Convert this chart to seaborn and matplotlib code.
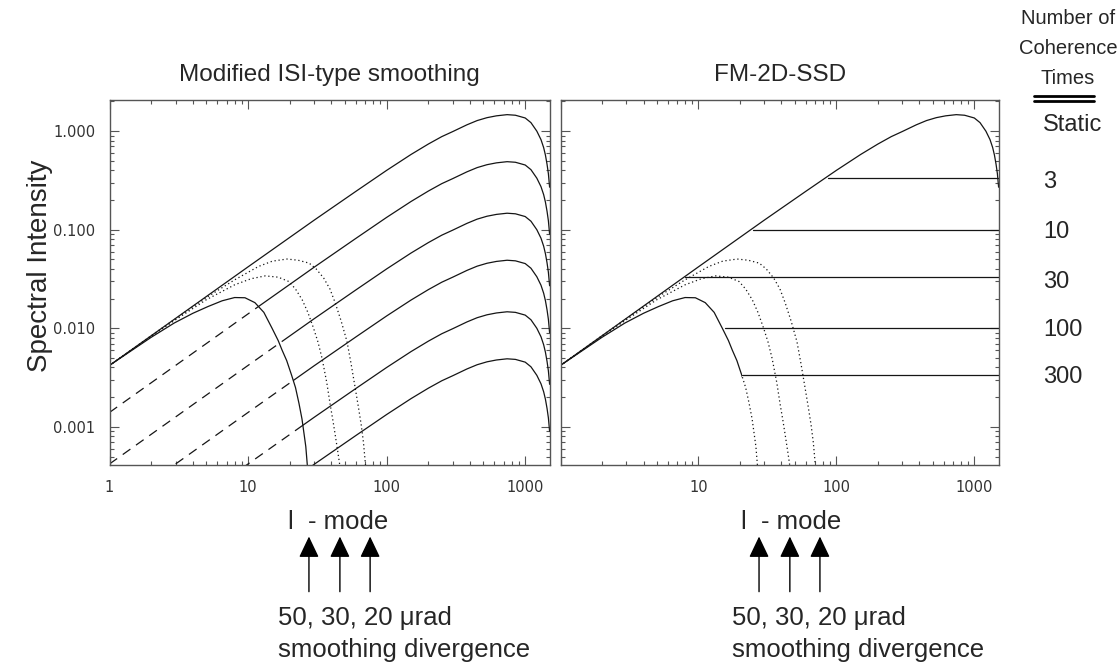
import numpy as np
import seaborn as sns
import matplotlib.pyplot as plt
from matplotlib.patches import Rectangle
from matplotlib.lines import Line2D
from matplotlib.ticker import NullFormatter

# static spectrum (top curve)
static_l = [1, 3, 10, 30, 60, 100, 150, 200, 250, 300, 380, 450, 530, 620, 740,
            850, 1000, 1100, 1213, 1300, 1359, 1400, 1438, 1470, 1487, 1500]
static_s = [0.0042, 0.0126, 0.042, 0.125, 0.245, 0.40, 0.58, 0.74, 0.88, 0.99, 1.16,
            1.28, 1.37, 1.43, 1.47, 1.45, 1.36, 1.22, 1.0, 0.82, 0.68, 0.57, 0.46,
            0.37, 0.31, 0.27]

# smoothing roll-off curves (50, 30, 20 urad divergence)
div50_l = [1, 2, 2.93, 4, 5.13, 6.5, 8, 9.5, 11.2, 13, 14.9, 16.5, 17.6, 19, 20.6,
           22, 23.3, 24.5, 25.5, 26.1, 26.8]
div50_s = [0.0042, 0.0081, 0.0113, 0.0142, 0.0166, 0.0190, 0.0205, 0.0204, 0.0182,
           0.0145, 0.0100, 0.0075, 0.0060, 0.0047, 0.00335, 0.0025, 0.00173, 0.0012,
           0.0008, 0.00063, 0.0004]
div30_l = [1, 2, 3, 5, 8, 10.5, 13.3, 16.5, 19.7, 22, 24.6, 27, 29.7, 32, 34.2, 37,
           39.2, 41, 42.6, 44.5, 46]
div30_s = [0.0042, 0.0083, 0.0122, 0.0195, 0.0276, 0.0318, 0.034, 0.0330, 0.0298,
           0.025, 0.0194, 0.0145, 0.010, 0.0072, 0.00495, 0.0028, 0.00166, 0.00115,
           0.00082, 0.00055, 0.0004]
div20_l = [1, 2, 3, 5, 8, 11.9, 15, 19.1, 23, 27.6, 31, 35.1, 39, 42.6, 47, 51.8,
           55.5, 59.4, 62.5, 65.6, 68, 70.5]
div20_s = [0.0042, 0.0084, 0.0125, 0.0205, 0.031, 0.0424, 0.048, 0.0504, 0.049,
           0.0458, 0.040, 0.0324, 0.025, 0.018, 0.0118, 0.0073, 0.0043, 0.00245,
           0.0016, 0.00104, 0.0007, 0.0004]

coh_times = [3, 10, 30, 100, 300]
coh_labels = ['Static', '3', '10', '30', '100', '300']
isi_switch_l = [11.8, 17.9, 21.0, 24.0, 26.3]    # dashed -> solid for static/N
ssd_level = [0.333, 0.1, 0.0333, 0.01, 0.00333]
ssd_start_l = [87, 25, 8.0, 15.5, 20.6]
arrow_l = [27.5, 46, 76]

xticks = [1, 10, 100, 1000]
yticks = [0.001, 0.01, 0.1, 1.0]
ytick_labels = ['0.001', '0.010', '0.100', '1.000']

XLIM = (1, 1510)
YLIM = (4.1e-4, 2.07)
ink = '#151515'
DOT = (0, (1.0, 2.2))
DASH = (0, (7.5, 5.5))

sns.set_style('ticks')
plt.rcParams['font.family'] = ['Liberation Sans', 'DejaVu Sans']

W, H = 1119, 667
fig = plt.figure(figsize=(W / 100, H / 100), dpi=100)
ax1 = fig.add_axes([109.5 / W, 202 / H, 440.5 / W, 365 / H])
ax2 = fig.add_axes([560.5 / W, 202 / H, 438.5 / W, 365 / H])


def line(ax, x, y, ls='-', lo=None, hi=None):
    sns.lineplot(x=x, y=y, ax=ax, color=ink, lw=0.9, linestyle=ls)
    ln = ax.lines[-1]
    if lo is not None:
        # keep only the part between lo and hi, still inside the axes
        lo, hi = max(lo, XLIM[0]), min(hi, XLIM[1])
        ln.set_clip_path(Rectangle((lo, YLIM[0]), hi - lo, YLIM[1] - YLIM[0],
                                   transform=ax.transData))


for ax in (ax1, ax2):
    ax.set_xscale('log')
    ax.set_yscale('log')

# left: modified ISI-type smoothing
line(ax1, static_l, static_s)
line(ax1, div50_l, div50_s)
line(ax1, div30_l, div30_s, DOT)
line(ax1, div20_l, div20_s, DOT)
for n, sw in zip(coh_times, isi_switch_l):
    ys = np.array(static_s) / n
    line(ax1, static_l, ys, DASH, 1, sw)
    line(ax1, static_l, ys, '-', sw, 1e4)

# right: FM-2D-SSD
line(ax2, static_l, static_s)
line(ax2, div50_l, div50_s, '-', 1, ssd_start_l[-1])
line(ax2, div50_l, div50_s, DOT, ssd_start_l[-1], 1e4)
line(ax2, div30_l, div30_s, DOT)
line(ax2, div20_l, div20_s, DOT)
for lev, st in zip(ssd_level, ssd_start_l):
    line(ax2, [st, 1500], [lev, lev])

for ax in (ax1, ax2):
    ax.set_xlim(*XLIM)
    ax.set_ylim(*YLIM)
    ax.set_xticks(xticks)
    ax.set_yticks(yticks)
    ax.xaxis.set_minor_formatter(NullFormatter())
    ax.yaxis.set_minor_formatter(NullFormatter())
    ax.tick_params(which='both', direction='in', top=True, right=True,
                   colors='#555555', labelcolor='#333333', width=0.8)
    ax.tick_params(which='major', length=6.5)
    ax.tick_params(which='minor', length=3.2)
    ax.tick_params(axis='x', pad=11)
    ax.tick_params(axis='y', pad=10)
    for s in ax.spines.values():
        s.set_color('#555555')
        s.set_linewidth(1.0)
    ax.set_xlabel('')
    ax.set_ylabel('')

ax1.set_xticklabels(['1', '10', '100', '1000'])
ax1.set_yticklabels(ytick_labels)
ax2.set_xticklabels(['', '10', '100', '1000'])
ax2.set_yticklabels(['', '', '', ''])
for ax in (ax1, ax2):
    for lab in ax.get_xticklabels() + ax.get_yticklabels():
        lab.set_family('DejaVu Sans')
        lab.set_fontsize(10.5)

# titles and labels
fig.text(329.8 / W, 1 - 75 / H, 'Modified ISI-type smoothing', ha='center', va='center', fontsize=17.5)
fig.text(779.8 / W, 1 - 75 / H, 'FM-2D-SSD', ha='center', va='center', fontsize=17.5)
fig.text(40 / W, 1 - 266 / H, 'Spectral Intensity', rotation=90, ha='center', va='center', fontsize=20)

for ax, cx, tx in ((ax1, 338.5, 278), (ax2, 790.8, 731.7)):
    fig.text(cx / W, 1 - 522 / H, 'l  - mode', ha='center', va='center', fontsize=18.5)
    for l in arrow_l:
        ax.annotate('', xy=(l, -0.196), xycoords=('data', 'axes fraction'),
                    xytext=(l, -0.347), textcoords=('data', 'axes fraction'),
                    arrowprops=dict(arrowstyle='-|>,head_length=0.65,head_width=0.31',
                                    mutation_scale=20, lw=1.0, color='k',
                                    shrinkA=0, shrinkB=0))
    fig.text(tx / W, 1 - 618 / H, '50, 30, 20 \u03bcrad', ha='left', va='center', fontsize=18.5)
    fig.text(tx / W, 1 - 650 / H, 'smoothing divergence', ha='left', va='center', fontsize=18.5)

# coherence-time key on the right
for txt, yy in (('Number of', 18), ('Coherence', 49), ('Times', 79)):
    fig.text(1068 / W, 1 - yy / H, txt, ha='center', va='center', fontsize=14.5)
for yy in (96, 101):
    fig.add_artist(Line2D([1034 / W, 1094 / W], [1 - yy / H] * 2,
                          transform=fig.transFigure, color='k', lw=2.0))
for txt, yy in zip(coh_labels, [125, 182, 232, 282, 330, 377]):
    fig.text(1043 / W, 1 - yy / H, txt, ha='left', va='center', fontsize=17)

fig.savefig('out.png', dpi=100)
